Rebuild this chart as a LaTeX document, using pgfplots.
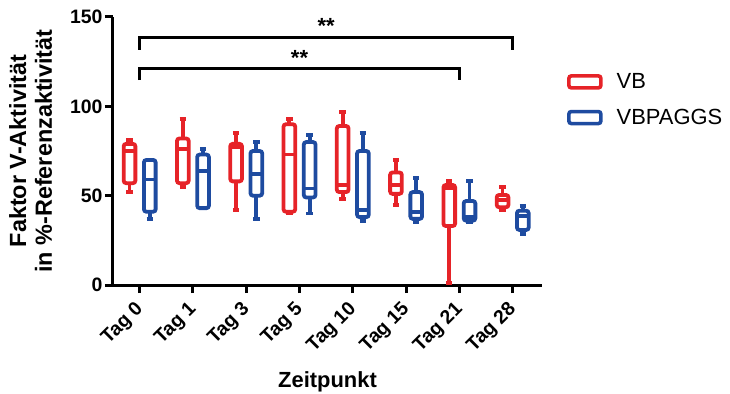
\documentclass[border=0pt]{standalone}
\usepackage{pgfplots}
\pgfplotsset{compat=1.18}
\usepgfplotslibrary{statistics}
\usepackage{fontspec}
\setmainfont{Liberation Sans}
\definecolor{myred}{RGB}{230,35,40}
\definecolor{myblue}{RGB}{30,75,160}
\pgfplotsset{boxleg/.style={legend image code/.code={\draw[##1, rounded corners=2.5bp] (0bp,-6bp) rectangle (32bp,6bp);}}}
\newcommand{\bx}[7]{\addplot[#1, forget plot, line width=3.8bp, boxplot/draw direction=y, boxplot prepared={draw position=#2, lower whisker=#3, lower quartile=#4, median=#5, upper quartile=#6, upper whisker=#7}] coordinates {};}
\begin{document}
\begin{tikzpicture}
\path[use as bounding box] (-113bp,-109bp) rectangle (617bp,285bp);
\begin{axis}[
  at={(0,0)}, anchor=south west,
  scale only axis, width=429bp, height=268bp,
  xmin=-0.5, xmax=7.55, ymin=0, ymax=150,
  clip=false,
  axis x line=bottom, axis y line=left,
  axis line style={-, line width=3bp, black},
  xtick={0,1,2,3,4,5,6,7},
  xticklabels={Tag 0,Tag 1,Tag 3,Tag 5,Tag 10,Tag 15,Tag 21,Tag 28},
  ytick={0,50,100,150},
  tick align=outside, major tick length=8bp,
  tick style={line width=3bp, black},
  /pgf/number format/assume math mode=true,
  ticklabel style={font=\bfseries\fontsize{19.5}{23}\selectfont},
  xticklabel style={xshift=3bp, yshift=-11bp, rotate=45, anchor=east},
  yticklabel style={xshift=1bp},
  xlabel={Zeitpunkt},
  xlabel style={font=\bfseries\fontsize{22}{26}\selectfont, at={(axis description cs:0.5,-0.384)}, anchor=base},
  ylabel={Faktor V-Aktivität\\in \%-Referenzaktivität},
  ylabel style={font=\bfseries\fontsize{23.5}{26}\selectfont, align=center, at={(axis description cs:-0.192,0.5)}, anchor=center},
  boxplot/box extend=0.22, boxplot/whisker extend=0.12,
  boxplot/every box/.style={rounded corners=2.5bp},
  legend style={draw=none, fill=none, at={(axis description cs:1.058,0.797)}, anchor=north west, font=\fontsize{22}{26}\selectfont, row sep=15bp, inner sep=0pt, /tikz/every odd column/.append style={column sep=12bp}},
  legend cell align=left,
]
\addlegendimage{myred, line width=3.6bp, boxleg}
\addlegendentry{VB}
\addlegendimage{myblue, line width=3.6bp, boxleg}
\addlegendentry{VBPAGGS}
% red: VB
\bx{myred}{-0.19}{52}{57}{75}{79}{81}
\bx{myred}{0.81}{55}{57}{76}{82}{93}
\bx{myred}{1.81}{42}{58}{77}{79}{85}
\bx{myred}{2.81}{40}{41}{73}{90}{93}
\bx{myred}{3.81}{48}{52}{56}{89}{97}
\bx{myred}{4.81}{45}{51}{56}{63}{70}
\bx{myred}{5.81}{1}{33}{54}{56}{58}
\bx{myred}{6.81}{42}{43.5}{47.6}{50.4}{54.7}
% blue: VBPAGGS
\bx{myblue}{0.19}{37}{41}{59}{70}{70}
\bx{myblue}{1.19}{43}{43}{64}{73}{76}
\bx{myblue}{2.19}{37}{50}{62}{75}{80}
\bx{myblue}{3.19}{40}{49}{54}{80}{84}
\bx{myblue}{4.19}{36}{38}{42}{75}{85}
\bx{myblue}{5.19}{35}{37}{41}{52}{60}
\bx{myblue}{6.19}{35}{36}{38}{47}{58}
\bx{myblue}{7.19}{28.6}{30.8}{38.6}{41.6}{44.2}
% significance brackets
\addplot[black, line width=2.5bp, forget plot] coordinates {(0,131.6) (0,138.4) (7,138.4) (7,131.6)};
\addplot[black, line width=2.5bp, forget plot] coordinates {(0,114.6) (0,121.1) (6,121.1) (6,114.6)};
\node[font=\bfseries\fontsize{22}{26}\selectfont, anchor=base] at (axis cs:3.5,140.5) {**};
\node[font=\bfseries\fontsize{22}{26}\selectfont, anchor=base] at (axis cs:3,123) {**};
\end{axis}
\end{tikzpicture}
\end{document}
